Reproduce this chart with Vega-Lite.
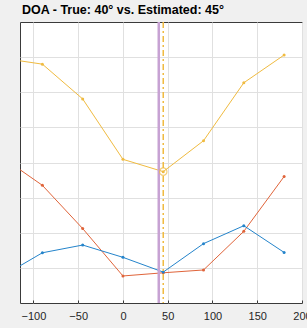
{
  "$schema": "https://vega.github.io/schema/vega-lite/v6.json",
  "width": 282,
  "height": 281,
  "autosize": {"type": "none"},
  "padding": {"left": 20, "top": 22, "right": 5, "bottom": 25},
  "background": "#f0f0f0",
  "title": {
    "text": "DOA - True: 40° vs. Estimated: 45°",
    "anchor": "start",
    "frame": "group",
    "font": "Liberation Sans",
    "fontSize": 12.5,
    "fontWeight": "bold",
    "color": "#000000",
    "offset": 4,
    "dx": 2
  },
  "config": {
    "view": {"fill": "white", "stroke": "#3a3a3a", "strokeWidth": 1},
    "axis": {
      "labelFont": "Liberation Sans",
      "labelFontSize": 11,
      "labelColor": "#262626",
      "gridColor": "#e0e0e0",
      "gridWidth": 1,
      "domain": false,
      "title": null
    },
    "axisY": {"ticks": false, "labels": false}
  },
  "datasets": {
    "series": [
      {"series": "yellow", "angle": -135, "value": 6.97},
      {"series": "yellow", "angle": -90, "value": 6.8},
      {"series": "yellow", "angle": -45, "value": 5.81},
      {"series": "yellow", "angle": 0, "value": 4.09},
      {"series": "yellow", "angle": 45, "value": 3.74},
      {"series": "yellow", "angle": 90, "value": 4.62},
      {"series": "yellow", "angle": 135, "value": 6.27},
      {"series": "yellow", "angle": 180, "value": 7.06},
      {"series": "orange", "angle": -135, "value": 4.15},
      {"series": "orange", "angle": -90, "value": 3.35},
      {"series": "orange", "angle": -45, "value": 2.12},
      {"series": "orange", "angle": 0, "value": 0.77},
      {"series": "orange", "angle": 45, "value": 0.86},
      {"series": "orange", "angle": 90, "value": 0.94},
      {"series": "orange", "angle": 135, "value": 2.04},
      {"series": "orange", "angle": 180, "value": 3.6},
      {"series": "blue", "angle": -135, "value": 0.76},
      {"series": "blue", "angle": -90, "value": 1.43},
      {"series": "blue", "angle": -45, "value": 1.65},
      {"series": "blue", "angle": 0, "value": 1.3},
      {"series": "blue", "angle": 45, "value": 0.88},
      {"series": "blue", "angle": 90, "value": 1.69},
      {"series": "blue", "angle": 135, "value": 2.2},
      {"series": "blue", "angle": 180, "value": 1.44}
    ],
    "trueDoa": [{"angle": 40}],
    "estDoa": [{"angle": 45, "value": 3.74}]
  },
  "layer": [
    {
      "data": {"name": "series"},
      "mark": {"type": "line", "strokeWidth": 1, "clip": true, "point": {"filled": true, "size": 9}},
      "encoding": {
        "x": {
          "field": "angle",
          "type": "quantitative",
          "scale": {"domain": [-115, 200], "nice": false, "zero": false},
          "axis": {
            "values": [-100, -50, 0, 50, 100, 150, 200],
            "labelFlush": false,
            "labelOverlap": false,
            "labelBound": false,
            "ticks": true,
            "tickSize": -3,
            "tickColor": "#3a3a3a",
            "labelPadding": 10,
            "grid": true
          }
        },
        "y": {
          "field": "value",
          "type": "quantitative",
          "scale": {"domain": [0, 8], "nice": false},
          "axis": {"values": [1, 2, 3, 4, 5, 6, 7], "grid": true}
        },
        "color": {
          "field": "series",
          "type": "nominal",
          "scale": {"domain": ["blue", "orange", "yellow"], "range": ["#2484cb", "#e0643a", "#f0bb40"]},
          "legend": null
        },
        "detail": {"field": "series"}
      }
    },
    {
      "data": {"name": "trueDoa"},
      "mark": {"type": "rule", "color": "#c7a2d3", "strokeWidth": 2.5},
      "encoding": {"x": {"field": "angle", "type": "quantitative"}}
    },
    {
      "data": {"name": "estDoa"},
      "mark": {"type": "rule", "color": "#f0bb40", "strokeWidth": 1.5, "strokeDash": [6, 3, 2, 3]},
      "encoding": {"x": {"field": "angle", "type": "quantitative"}}
    },
    {
      "data": {"name": "estDoa"},
      "mark": {"type": "point", "shape": "circle", "filled": false, "color": "#f0bb40", "size": 55, "strokeWidth": 1.2},
      "encoding": {
        "x": {"field": "angle", "type": "quantitative"},
        "y": {"field": "value", "type": "quantitative"}
      }
    }
  ]
}
